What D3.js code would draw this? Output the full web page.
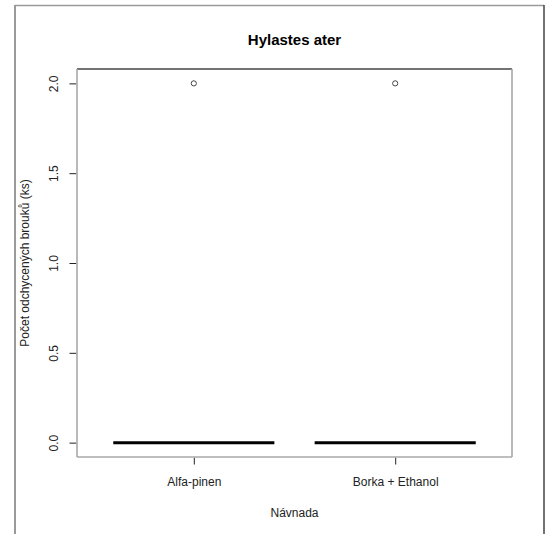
<!DOCTYPE html>
<html>
<head>
<meta charset="utf-8">
<script src="https://cdn.jsdelivr.net/npm/d3@7"></script>
<style>
  html, body { margin: 0; padding: 0; background: #ffffff; }
  svg { display: block; font-family: "Liberation Sans", Arial, sans-serif; }
</style>
</head>
<body>
<svg id="chart" width="550" height="534"></svg>
<script>
// Bait categories and the box statistics of captured beetles per trap
const categories = ["Alfa-pinen", "Borka + Ethanol"];
const lowerWhisker = [0, 0];
const q1 = [0, 0];
const medians = [0, 0];
const q3 = [0, 0];
const upperWhisker = [0, 0];
const outliers = [[2], [2]];
const yTicks = [0, 0.5, 1.0, 1.5, 2.0];

const svg = d3.select("#chart");

// Plot region
const plot = { left: 77, top: 69, right: 512, bottom: 457 };

// Outer frame
svg.append("line").attr("x1", 15).attr("y1", 5.5).attr("x2", 544).attr("y2", 5.5)
  .attr("stroke", "#9a9a9a").attr("stroke-width", 1.5);
svg.append("line").attr("x1", 15).attr("y1", 5).attr("x2", 15).attr("y2", 534)
  .attr("stroke", "#9a9a9a").attr("stroke-width", 2);
svg.append("line").attr("x1", 544).attr("y1", 5).attr("x2", 544).attr("y2", 534)
  .attr("stroke", "#444444").attr("stroke-width", 1.5);

// Scales (R-style 4% padding around data range)
const x = d3.scaleLinear().domain([0.42, 2.58]).range([plot.left, plot.right]);
const y = d3.scaleLinear().domain([-0.08, 2.08]).range([plot.bottom, plot.top]);
const boxWidth = x(1.4) - x(1.0); // half of 0.8 boxwex

// Title
svg.append("text")
  .attr("x", (plot.left + plot.right) / 2)
  .attr("y", 45)
  .attr("text-anchor", "middle")
  .attr("font-size", 15)
  .attr("font-weight", "bold")
  .attr("fill", "#000")
  .text("Hylastes ater");

// Y axis
const yAxis = d3.axisLeft(y).tickValues(yTicks).tickSize(7).tickPadding(0)
  .tickFormat(d3.format(".1f"));
const gy = svg.append("g").attr("transform", `translate(${plot.left - 0.5},0)`).call(yAxis);
gy.select(".domain").remove();
gy.selectAll(".tick line").attr("stroke", "#222").attr("stroke-width", 1);
gy.selectAll(".tick text")
  .attr("x", 0).attr("y", 0).attr("dy", null)
  .attr("transform", "translate(-23,0) rotate(-90)")
  .attr("text-anchor", "middle")
  .attr("dominant-baseline", "central")
  .attr("font-size", 12)
  .attr("font-family", "Liberation Sans, Arial, sans-serif")
  .attr("fill", "#222");

// X axis
const xAxis = d3.axisBottom(x).tickValues([1, 2]).tickSize(7).tickPadding(0)
  .tickFormat(d => categories[d - 1]);
const gx = svg.append("g").attr("transform", `translate(0,${plot.bottom + 0.5})`).call(xAxis);
gx.select(".domain").remove();
gx.selectAll(".tick line").attr("stroke", "#222").attr("stroke-width", 1);
gx.selectAll(".tick text")
  .attr("y", 28).attr("dy", null)
  .attr("font-size", 12)
  .attr("font-family", "Liberation Sans, Arial, sans-serif")
  .attr("fill", "#222");

// Axis titles
svg.append("text")
  .attr("x", (plot.left + plot.right) / 2)
  .attr("y", 517)
  .attr("text-anchor", "middle")
  .attr("font-size", 12)
  .attr("fill", "#222")
  .text("Návnada");

svg.append("text")
  .attr("transform", `translate(29,${(plot.top + plot.bottom) / 2}) rotate(-90)`)
  .attr("text-anchor", "middle")
  .attr("font-size", 12)
  .attr("fill", "#222")
  .text("Počet odchycených brouků (ks)");

// Boxes: whiskers, boxes, medians
const groups = svg.append("g").selectAll("g").data(categories).join("g");
groups.append("line")
  .attr("x1", (d, i) => x(i + 1)).attr("x2", (d, i) => x(i + 1))
  .attr("y1", (d, i) => y(lowerWhisker[i])).attr("y2", (d, i) => y(upperWhisker[i]))
  .attr("stroke", "#000").attr("stroke-dasharray", "4,3");
groups.append("rect")
  .attr("x", (d, i) => x(i + 1) - boxWidth)
  .attr("width", boxWidth * 2)
  .attr("y", (d, i) => y(q3[i]))
  .attr("height", (d, i) => y(q1[i]) - y(q3[i]))
  .attr("fill", "none").attr("stroke", "#000").attr("stroke-width", 1);
groups.append("line")
  .attr("x1", (d, i) => x(i + 1) - boxWidth).attr("x2", (d, i) => x(i + 1) + boxWidth)
  .attr("y1", (d, i) => y(medians[i])).attr("y2", (d, i) => y(medians[i]))
  .attr("stroke", "#000").attr("stroke-width", 3);

// Outliers
groups.each(function (d, i) {
  d3.select(this).selectAll("circle").data(outliers[i]).join("circle")
    .attr("cx", x(i + 1)).attr("cy", v => y(v)).attr("r", 2.6)
    .attr("fill", "none").attr("stroke", "#333").attr("stroke-width", 0.9);
});

// Plot box: dark top edge, grey sides and bottom
svg.append("line").attr("x1", plot.left).attr("y1", plot.top).attr("x2", plot.right).attr("y2", plot.top)
  .attr("stroke", "#444").attr("stroke-width", 1.6);
svg.append("line").attr("x1", plot.left).attr("y1", plot.top).attr("x2", plot.left).attr("y2", plot.bottom)
  .attr("stroke", "#a8a8a8").attr("stroke-width", 1.6);
svg.append("line").attr("x1", plot.right).attr("y1", plot.top).attr("x2", plot.right).attr("y2", plot.bottom)
  .attr("stroke", "#a8a8a8").attr("stroke-width", 1.6);
svg.append("line").attr("x1", plot.left).attr("y1", plot.bottom).attr("x2", plot.right).attr("y2", plot.bottom)
  .attr("stroke", "#a8a8a8").attr("stroke-width", 1.6);
</script>
</body>
</html>
